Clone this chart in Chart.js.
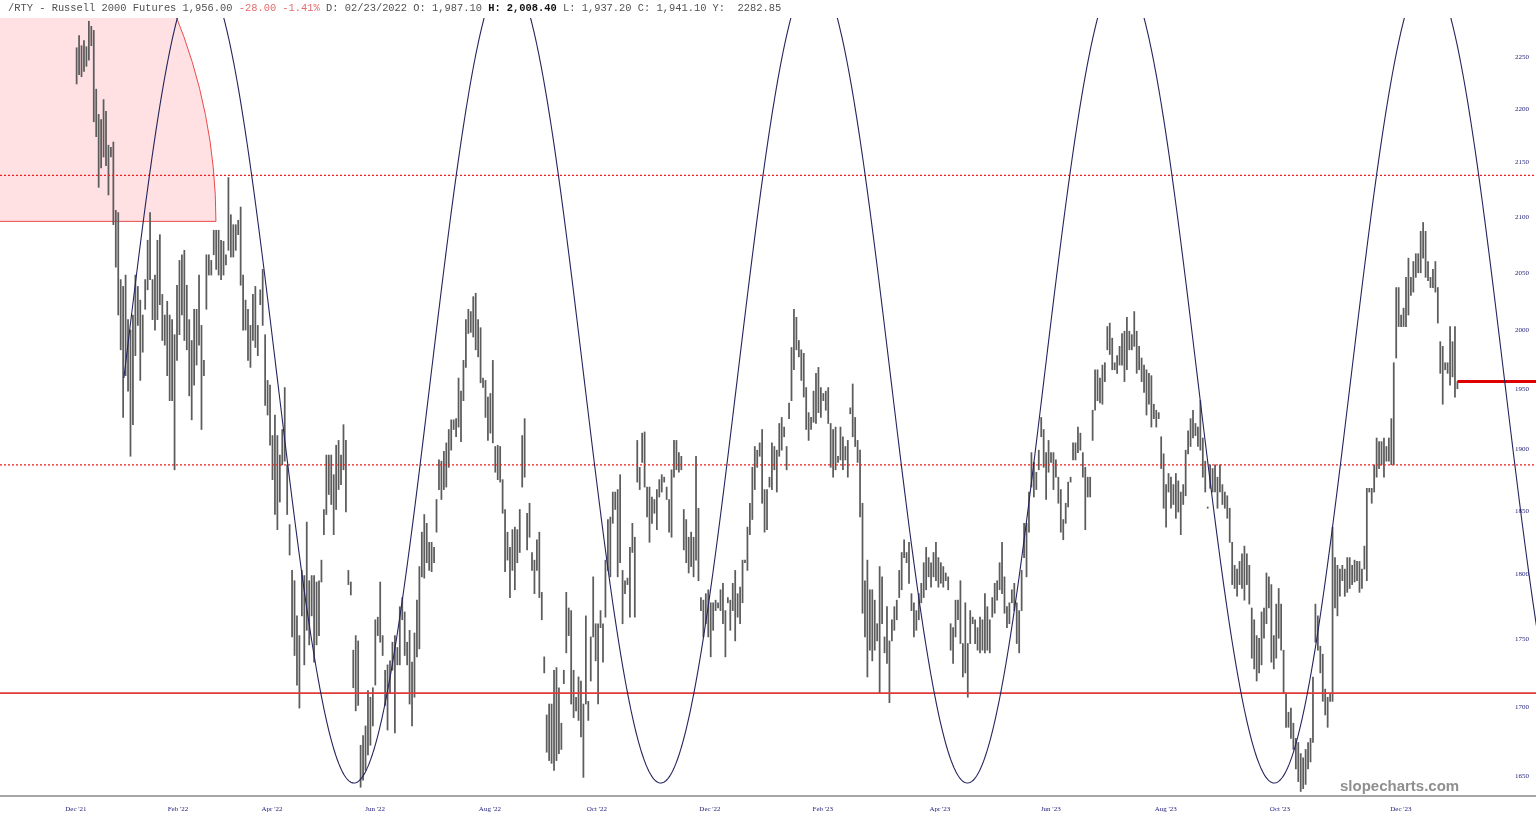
<!DOCTYPE html>
<html lang="en">
<head>
<meta charset="UTF-8">
<title>/RTY - Russell 2000 Futures</title>
<script src="https://cdn.jsdelivr.net/npm/chart.js"></script>
<style>
  body { margin: 0; background: #fff; }
  #wrap { position: relative; width: 1536px; height: 822px; }
  canvas { display: block; }
  #header {
    position: absolute; left: 8px; top: 2px;
    font-family: "Liberation Mono", monospace; font-size: 10.4px; line-height: 12px;
    color: #505050; white-space: pre;
  }
  #header .chg { color: #e46a6a; }
  #header b { color: #111; }
  #mark {
    position: absolute; left: 1340px; top: 777px;
    font: bold 15px "Liberation Sans", Arial, sans-serif; color: #8f8f8f;
  }
</style>
</head>
<body>
<div id="wrap">
  <canvas id="chart" width="1536" height="822"></canvas>
  <div id="header">/RTY - Russell 2000 Futures 1,956.00 <span class="chg">-28.00 -1.41%</span> D: 02/23/2022 O: 1,987.10 <b>H: 2,008.40</b> L: 1,937.20 C: 1,941.10 Y:  2282.85</div>
  <div id="mark">slopecharts.com</div>
</div>

<script>
// daily bar highs / lows, Dec 2021 - Jan 2024
const highs = [
  2259,2271,2261,2266,2260,2285,2280,2276,2219,2195,
  2190,2209,2198,2166,2164,2169,2106,2104,2044,2038,
  2048,2009,2000,2013,2048,2038,2026,2013,2044,2079,
  2104,2044,2048,2079,2084,2031,2013,2025,2013,2009,
  1996,2039,2061,2066,2070,2039,2009,1991,2018,2018,
  2048,2004,1974,2066,2066,2061,2088,2088,2088,2079,
  2078,2066,2136,2102,2093,2093,2097,2109,2048,2026,
  2018,2004,2031,2038,2004,2035,2053,1996,1957,1953,
  1911,1928,1911,1895,1916,1951,1887,1839,1803,1795,
  1768,1753,1803,1799,1841,1795,1799,1799,1794,1795,
  1811,1851,1895,1895,1895,1879,1903,1907,1895,1920,
  1907,1803,1794,1742,1753,1749,1672,1679,1686,1712,
  1707,1714,1765,1767,1794,1753,1727,1731,1734,1748,
  1753,1744,1775,1782,1771,1748,
  1757,1733,1755,1780,1806,1833,1847,1840,1825,1825,
  1821,1859,1891,1890,1898,1905,1916,1924,1924,1925,
  1959,1948,1974,2009,2018,2016,2029,2032,2009,2002,
  1959,1957,1943,1946,1974,1902,1903,1902,1875,1851,
  1833,1821,1835,1837,1835,1851,1911,1925,1848,1856,
  1817,1811,1827,1833,1786,1737,1694,1702,1702,1727,
  1729,1714,1688,1727,1786,1774,1772,1727,1707,1722,
  1719,1702,1768,1704,1752,1798,1762,1762,1772,1762,
  1811,1843,1845,1865,1865,1867,1879,1803,1795,1797,
  1821,1840,1829,1907,1885,1913,1914,1869,1869,1861,
  1859,1867,1875,1879,1877,1869,1859,1883,1907,1907,
  1897,1894,1851,1843,1829,1833,1829,1894,1852,1782,
  1780,1785,1788,1778,1778,1780,1778,1788,1793,1772,
  1782,1780,1793,1803,1785,1790,1811,1811,1837,
  1856,1885,1902,1899,1905,1916,1867,1867,1877,1905,
  1902,1899,1921,1926,1918,1902,1938,1985,2018,2011,
  1991,1983,1980,1951,1930,1926,1948,1963,1968,1951,
  1946,1948,1951,1921,1916,1918,1894,1918,1910,1902,
  1907,1934,1954,1926,1907,1899,1856,1795,1811,1788,
  1788,1780,1762,1806,1798,1752,1775,1749,1765,1775,
  1780,1803,1817,1827,1817,1825,1785,1778,1772,1785,
  1793,1809,1821,1813,1809,1817,1825,1813,1809,1806,
  1801,1798,1762,1759,1780,1780,1795,1747,1778,1747,
  1772,1767,1765,1759,1767,1765,1785,1775,1765,1782,
  1793,1795,1809,1825,1798,1775,1778,1788,1793,1778,
  1772,1803,1840,1840,1865,1897,1889,1881,1899,1926,
  1916,1897,1907,1897,1897,1891,1877,1867,1843,1856,
  1873,1877,1905,1905,1918,1913,1897,1885,1877,1877,
  1932,1966,1966,1959,
  1970,1972,2003,2006,1993,1972,1978,1986,1997,1999,
  2011,1999,1996,2016,1999,1986,1976,1970,1966,1963,
  1961,1937,1932,1930,1910,1896,1871,1880,1877,1871,
  1880,1874,1865,1871,1899,1915,1925,1932,1921,1918,
  1940,1909,1890,1853,1887,1884,1887,1877,1887,1871,
  1865,1862,1852,1825,1807,1804,1810,1816,1822,1816,
  1807,1774,1765,1753,1751,1771,1774,1801,1798,1792,
  1753,1777,1789,1777,1742,1710,1696,1699,1688,1677,
  1674,1666,1663,1669,1674,1677,1722,1777,1768,1745,
  1739,1713,1707,1710,1837,1813,1807,1804,1807,1804,
  1813,1813,1807,1811,1810,1810,1804,1822,1868,1868,
  1868,1887,1909,1906,1906,1909,1902,1909,1925,1972,
  2037,2037,2013,2019,2046,2063,2046,2060,2067,2067,
  2087,2095,2087,2060,2046,2053,2060,2037,1990,1986,
  1972,1972,2003,1990,2003,1956
];
const lows = [
  2224,2233,2231,2236,2241,2247,2261,2188,2174,2127,
  2145,2155,2147,2120,2155,2093,2055,2013,1983,1926,
  1961,1948,1894,1920,1978,2004,1957,1981,2018,2035,
  2044,2009,2000,2009,2022,1991,1987,1961,1940,1940,
  1883,1974,1996,2013,1991,1983,1944,1924,1953,1970,
  1987,1916,1961,2018,2048,2048,2066,2053,2048,2044,
  2048,2057,2070,2064,2064,2070,2084,2039,2000,2000,
  1974,1968,1991,1985,1978,2022,2004,1936,1928,1903,
  1875,1847,1835,1857,1887,1890,1847,1815,1752,1738,
  1716,1699,1768,1731,1757,1746,1768,1733,1746,1753,
  1794,1831,1847,1863,1855,1831,1851,1867,1871,1883,
  1849,1792,1784,1714,1697,1701,1642,1647,1654,1665,
  1672,1686,1716,1753,1748,1738,1701,1683,1710,1727,
  1681,1731,1731,1765,1738,1731,
  1702,1686,1707,1737,1743,1798,1797,1809,1803,1802,
  1809,1833,1867,1859,1867,1869,1885,1899,1916,1910,
  1918,1906,1940,1968,1997,1998,1994,1983,1977,1955,
  1951,1926,1907,1913,1905,1881,1875,1873,1848,1802,
  1811,1782,1803,1788,1809,1817,1869,1877,1819,1829,
  1803,1785,1803,1782,1765,1725,1667,1661,1659,1654,
  1661,1666,1669,1717,1740,1753,1702,1692,1697,1690,
  1678,1649,1702,1690,1719,1752,1734,1702,1759,1733,
  1767,1803,1798,1840,1851,1798,1809,1762,1785,1792,
  1767,1817,1767,1873,1867,1889,1869,1845,1825,1840,
  1848,1835,1861,1865,1873,1859,1833,1829,1877,1883,
  1881,1883,1819,1809,1801,1806,1798,1811,1795,1772,
  1752,1762,1752,1737,1757,1772,1774,1772,1762,1737,
  1778,1757,1772,1749,1767,1762,1778,1809,1803,
  1831,1843,1867,1885,1894,1856,1833,1835,1869,1867,
  1883,1865,1894,1899,1910,1883,1925,1940,1966,1983,
  1977,1957,1943,1916,1907,1916,1922,1921,1930,1926,
  1940,1932,1921,1885,1877,1883,1889,1891,1883,1891,
  1877,1929,1910,1902,1889,1845,1770,1752,1722,1742,
  1734,1742,1749,1710,1762,1740,1732,1703,1749,1757,
  1765,1782,1788,1813,1809,1793,1772,1752,1757,1765,
  1778,1782,1788,1798,1790,1798,1795,1790,1793,1790,
  1795,1788,1742,1732,1752,1765,1747,1722,1725,1707,
  1747,1762,1747,1742,1740,1742,1740,1742,1740,1767,
  1770,1780,1788,1785,1770,1759,1762,1778,1772,1747,
  1740,1772,1813,1798,1833,1869,1861,1867,1883,1910,
  1885,1859,1881,1889,1867,1877,1856,1833,1827,1840,
  1853,1873,1891,1891,1897,1899,1877,1835,1861,1861,
  1907,1932,1940,1938,
  1937,1956,1983,1979,1966,1966,1963,1970,1970,1956,
  1966,1983,1983,1986,1963,1966,1956,1947,1928,1937,
  1918,1925,1918,1925,1884,1852,1837,1865,1852,1855,
  1844,1849,1831,1855,1862,1896,1902,1909,1911,1902,
  1899,1877,1865,1852,1868,1865,1865,1852,1865,1855,
  1852,1844,1825,1792,1789,1783,1792,1789,1780,1792,
  1777,1736,1728,1719,1725,1731,1751,1762,1774,1733,
  1728,1736,1751,1742,1710,1685,1685,1677,1669,1655,
  1646,1639,1641,1644,1655,1660,1674,1748,1742,1725,
  1704,1694,1685,1704,1704,1774,1768,1783,1795,1783,
  1786,1789,1792,1794,1795,1786,1789,1804,1795,1865,
  1856,1865,1877,1884,1887,1877,1890,1890,1887,1887,
  1976,2003,2003,2003,2003,2013,2030,2033,2046,2050,
  2050,2063,2046,2043,2037,2037,2033,2006,1963,1937,
  1966,1963,1953,1960,1943,1950
];

// month labels sit at these bar positions
const monthTicks = [-0.3, 41.4, 79.8, 121.9, 168.8, 212.5, 258.7, 304.8, 352.6, 397.9, 444.9, 491.5, 540.9];
const monthLabels = ["Dec '21", "Feb '22", "Apr '22", "Jun '22", "Aug '22", "Oct '22", "Dec '22",
                     "Feb '23", "Apr '23", "Jun '23", "Aug '23", "Oct '23", "Dec '23"];
const yTicks = [1650, 1700, 1750, 1800, 1850, 1900, 1950, 2000, 2050, 2100, 2150, 2200, 2250];

// horizontal levels
const levelTop = 2138, levelMid = 1887, levelLow = 1710, lastPrice = 1956;

// shaded arc zone (top left) and the cycle wave
const zoneBase = 2096, zoneEdge = 56.9, zoneCenter = -166.9;
const cycleStart = 19.3, cyclePeriod = 125.3, cycleLow = 1645, cycleHigh = 2333;

const xMin = -31.3, xMax = 596.1;
const yMin = 1635.8, yMax = 2288.2;
const lastIdx = highs.length - 1;

const overlays = {
  id: 'overlays',
  beforeDatasetsDraw(chart) {
    const { ctx, chartArea: a, scales: { x, y } } = chart;
    const cx = x.getPixelForValue(zoneCenter);
    const r = x.getPixelForValue(zoneEdge) - cx;
    const by = y.getPixelForValue(zoneBase);
    ctx.save();
    ctx.beginPath();
    ctx.rect(a.left, a.top, a.right - a.left, a.bottom - a.top);
    ctx.clip();
    ctx.beginPath();
    ctx.moveTo(cx - r, by);
    ctx.arc(cx, by, r, Math.PI, 2 * Math.PI);
    ctx.closePath();
    ctx.fillStyle = '#ffe0e3';
    ctx.fill();
    ctx.strokeStyle = '#e84a4a';
    ctx.lineWidth = 1;
    ctx.stroke();
    ctx.restore();
  },
  afterDatasetsDraw(chart) {
    const { ctx, chartArea: a, scales: { x, y } } = chart;
    const lo = Math.log(cycleLow), hi = Math.log(cycleHigh);
    const mid = (lo + hi) / 2, amp = (hi - lo) / 2;
    ctx.save();
    ctx.beginPath();
    ctx.rect(a.left, a.top, a.right - a.left, a.bottom - a.top);
    ctx.clip();
    ctx.beginPath();
    let first = true;
    for (let px = x.getPixelForValue(cycleStart); px <= a.right + 1; px += 1) {
      const i = x.getValueForPixel(px);
      const v = Math.exp(mid + amp * Math.sin(2 * Math.PI * (i - cycleStart) / cyclePeriod));
      const py = y.getPixelForValue(v);
      if (first) { ctx.moveTo(px, py); first = false; } else ctx.lineTo(px, py);
    }
    ctx.strokeStyle = '#24245e';
    ctx.lineWidth = 1.1;
    ctx.stroke();
    ctx.restore();
  }
};

function hLine(value, from, to, color, width, dash) {
  return {
    type: 'line',
    data: [{ x: from, y: value }, { x: to, y: value }],
    borderColor: color,
    borderWidth: width,
    borderDash: dash,
    pointRadius: 0,
    order: 1
  };
}

const labelFont = { family: 'Liberation Serif', size: 7 };

new Chart(document.getElementById('chart'), {
  type: 'bar',
  data: {
    datasets: [
      hLine(levelTop, xMin, xMax, '#f01e1e', 1.2, [2, 2]),
      hLine(levelMid, xMin, xMax, '#f01e1e', 1.2, [2, 2]),
      hLine(levelLow, xMin, xMax, '#e03a3a', 1.6, []),
      hLine(lastPrice, lastIdx, xMax, '#e00000', 3, []),
      {
        type: 'bar',
        data: highs.map((h, i) => ({ x: i, y: [lows[i], h] })),
        backgroundColor: '#5c5c5c',
        barThickness: 1.1,
        order: 5
      }
    ]
  },
  options: {
    responsive: false,
    animation: false,
    events: [],
    layout: { padding: { top: 18, left: 0, right: 0, bottom: 0 } },
    plugins: { legend: { display: false }, tooltip: { enabled: false } },
    scales: {
      x: {
        type: 'linear', min: xMin, max: xMax, offset: false,
        grid: { display: false },
        border: { display: true, color: '#a6a6a6', width: 2 },
        afterBuildTicks: s => { s.ticks = monthTicks.map(v => ({ value: v })); },
        afterFit: s => { s.height = 26; },
        ticks: {
          autoSkip: false, maxRotation: 0, padding: 1,
          color: '#23237d', font: labelFont,
          callback: (v, i) => monthLabels[i]
        }
      },
      y: {
        type: 'logarithmic', position: 'right', min: yMin, max: yMax,
        grid: { display: false },
        border: { display: false },
        afterBuildTicks: s => { s.ticks = yTicks.map(v => ({ value: v })); },
        afterFit: s => { s.width = 0; },
        ticks: {
          mirror: true, padding: -7, autoSkip: false,
          color: '#23237d', font: labelFont,
          callback: v => String(v)
        }
      }
    }
  },
  plugins: [overlays]
});
</script>
</body>
</html>
